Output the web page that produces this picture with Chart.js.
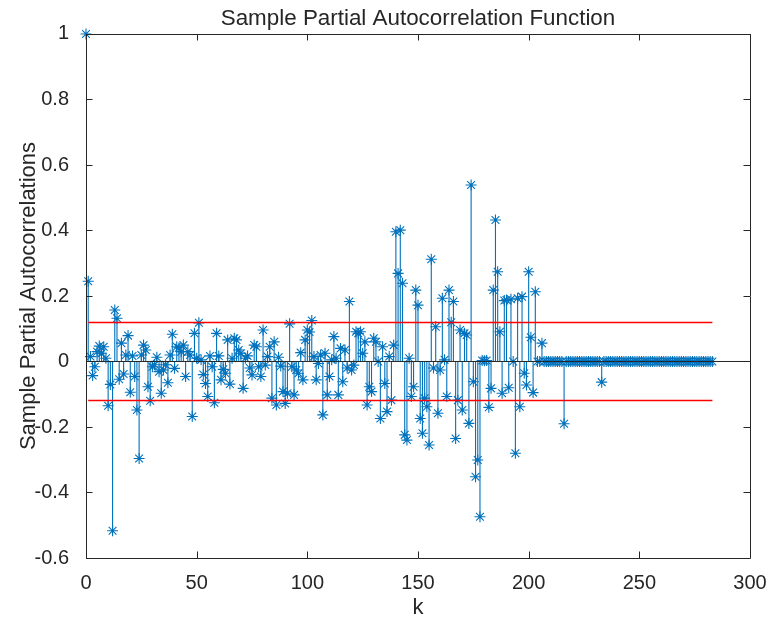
<!DOCTYPE html>
<html>
<head>
<meta charset="utf-8">
<script src="https://cdn.jsdelivr.net/npm/chart.js@4/dist/chart.umd.min.js"></script>
<style>
  html, body { margin: 0; padding: 0; background: #fff; }
  #wrap { width: 769px; height: 622px; position: relative; }
</style>
</head>
<body>
<div id="wrap"><canvas id="pacfChart"></canvas></div>
<script>
// sample partial autocorrelations, lag 0..283
const pacf = [
  1, 0.245, 0.015, -0.043, -0.016, 0.03, 0.047, 0.025, 0.045, 0.01,
  -0.135, -0.07, -0.517, 0.157, 0.132, -0.054, 0.056, -0.038, 0.02, 0.079,
  -0.094, 0.017, -0.046, -0.148, -0.296, 0.02, 0.05, 0.035, -0.077, -0.12,
  -0.016, -0.01, 0.013, -0.031, -0.097, -0.026, -0.01, -0.065, 0.02, 0.083,
  -0.021, 0.045, 0.042, 0.03, 0.05, -0.046, 0.03, 0.02, -0.168, 0.086,
  0.01, 0.118, 0.005, -0.04, -0.067, -0.107, 0.017, -0.016, -0.126, 0.086,
  0.017, -0.056, -0.024, -0.036, 0.066, -0.069, 0.01, 0.071, 0.066, 0.035,
  0.025, -0.082, 0.01, 0.017, -0.02, -0.041, 0.05, 0.045, -0.016, -0.046,
  0.096, -0.011, 0.015, 0.045, -0.112, 0.06, -0.133, 0.013, -0.014, -0.092,
  -0.128, -0.097, 0.115, -0.016, -0.102, -0.026, -0.036, 0.027, -0.056, 0.066,
  0.096, 0.09, 0.125, 0.015, -0.056, -0.006, 0.02, -0.163, 0.025, -0.102,
  -0.046, 0.005, 0.076, 0.01, -0.102, 0.04, -0.062, 0.035, -0.02, 0.183,
  -0.026, -0.011, 0.091, 0.086, 0.091, 0.025, 0.06, -0.133, -0.077, -0.092,
  0.071, 0.06, 0, -0.174, 0.045, -0.067, -0.153, 0.015, -0.118, 0.05,
  0.396, 0.269, 0.401, 0.239, -0.224, -0.24, 0.01, -0.107, -0.077, 0.218,
  0.172, -0.174, -0.219, -0.112, -0.138, -0.255, 0.312, -0.02, 0.106, -0.158,
  -0.026, 0.193, 0.005, -0.107, 0.218, 0.12, 0.183, -0.235, -0.118, 0.096,
  -0.148, 0.086, 0.081, -0.189, 0.539, -0.062, -0.352, -0.301, -0.474, 0.003,
  0.002, 0.003, -0.14, -0.082, 0.218, 0.432, 0.274, 0.091, -0.097, 0.186,
  0.188, -0.08, 0.19, 0, -0.28, 0.193, -0.138, 0.198, -0.036, -0.072,
  0.274, 0.074, -0.095, 0.213, 0, 0, 0.056, 0, 0, 0,
  0, 0, 0, 0, 0, 0, -0.19, 0, 0, 0,
  0, 0, 0, 0, 0, 0, 0, 0, 0, 0,
  0, 0, 0, -0.063, 0, 0, 0, 0, 0, 0,
  0, 0, 0, 0, 0, 0, 0, 0, 0, 0,
  0, 0, 0, 0, 0, 0, 0, 0, 0, 0,
  0, 0, 0, 0, 0, 0, 0, 0, 0, 0,
  0, 0, 0, 0, 0, 0, 0, 0, 0, 0,
  0, 0, 0, 0
];
const confBound = 0.119;          // +/- bounds (red lines)
const boundLags = [1, 283];       // red lines run over these lags
const xTicks = [0, 50, 100, 150, 200, 250, 300];
const yTicks = [-0.6, -0.4, -0.2, 0, 0.2, 0.4, 0.6, 0.8, 1];

const BLUE = "#0072BD";
const INK = "#262626";
const FONT = "'Liberation Sans', Arial, Helvetica, sans-serif";

// stems: 0 -> value, broken with nulls
const stemPts = [];
pacf.forEach((v, k) => { stemPts.push({x:k, y:0}, {x:k, y:v}, {x:k, y:null}); });
const markPts = pacf.map((v, k) => ({x:k, y:v}));

// box + inward ticks, like matlab axes
const axesBox = {
  id: "axesBox",
  afterDatasetsDraw(chart){
    const {ctx, chartArea:a, scales:{x, y}} = chart;
    const tl = 6.5;
    ctx.save();
    ctx.strokeStyle = INK;
    ctx.lineWidth = 1;
    ctx.beginPath();
    ctx.rect(Math.round(a.left)+0.5, Math.round(a.top)+0.5, Math.round(a.right-a.left), Math.round(a.bottom-a.top));
    xTicks.forEach(t => {
      const px = Math.round(x.getPixelForValue(t)) + 0.5;
      ctx.moveTo(px, a.bottom); ctx.lineTo(px, a.bottom - tl);
      ctx.moveTo(px, a.top); ctx.lineTo(px, a.top + tl);
    });
    yTicks.forEach(t => {
      const py = Math.round(y.getPixelForValue(t)) + 0.5;
      ctx.moveTo(a.left, py); ctx.lineTo(a.left + tl, py);
      ctx.moveTo(a.right, py); ctx.lineTo(a.right - tl, py);
    });
    ctx.stroke();
    ctx.restore();
  }
};

new Chart(document.getElementById("pacfChart"), {
  type: "scatter",
  data: {
    datasets: [
      { type:"line", label:"upper", order:0,
        data: boundLags.map(k => ({x:k, y:confBound})),
        borderColor:"#FF0000", borderWidth:1.4, pointRadius:0 },
      { type:"line", label:"lower", order:0,
        data: boundLags.map(k => ({x:k, y:-confBound})),
        borderColor:"#FF0000", borderWidth:1.4, pointRadius:0 },
      { type:"line", label:"base", order:1,
        data: [{x:xTicks[0], y:0}, {x:xTicks[xTicks.length-1], y:0}],
        borderColor:INK, borderWidth:1, pointRadius:0 },
      { type:"scatter", label:"pacf", order:2, clip:false,
        data: markPts,
        pointStyle:"star", pointRadius:5.5, pointBorderWidth:1.1,
        borderColor:BLUE, backgroundColor:BLUE },
      { type:"line", label:"stems", order:3,
        data: stemPts, spanGaps:false,
        borderColor:BLUE, borderWidth:1.1, pointRadius:0 }
    ]
  },
  options: {
    responsive: true,
    maintainAspectRatio: false,
    animation: false,
    layout: { padding: { left: 16, right: 19, top: 0, bottom: 0 } },
    plugins: {
      legend: { display:false },
      tooltip: { enabled:false },
      title: {
        display: true,
        fullSize: false,
        text: "Sample Partial Autocorrelation Function",
        color: INK,
        font: { family: FONT, size: 22.4, weight: "normal" },
        padding: { top: 5, bottom: 2.1 }
      }
    },
    scales: {
      x: {
        type: "linear", min: 0, max: 300,
        afterBuildTicks: s => { s.ticks = xTicks.map(v => ({value:v})); },
        afterFit: s => { s.height = 64; s.paddingLeft = 0; s.paddingRight = 0; },
        grid: { display:false },
        border: { display:false },
        ticks: { color: INK, padding: 5, font: { family: FONT, size: 20 }, maxRotation:0 },
        title: { display:true, text:"k", color: INK, font:{ family: FONT, size: 22 }, padding:{ top:0, bottom:1 } }
      },
      y: {
        min: -0.6, max: 1,
        afterBuildTicks: s => { s.ticks = yTicks.map(v => ({value:v})); },
        afterFit: s => { s.width = 86 - 16; },
        grid: { display:false },
        border: { display:false },
        ticks: { color: INK, padding: 9, font: { family: FONT, size: 20 },
          callback: v => String(+v.toFixed(1)) },
        title: { display:true, text:"Sample Partial Autocorrelations", color: INK, font:{ family: FONT, size: 22 }, padding:{ top:0, bottom:0 } }
      }
    }
  },
  plugins: [axesBox]
});
</script>
</body>
</html>
